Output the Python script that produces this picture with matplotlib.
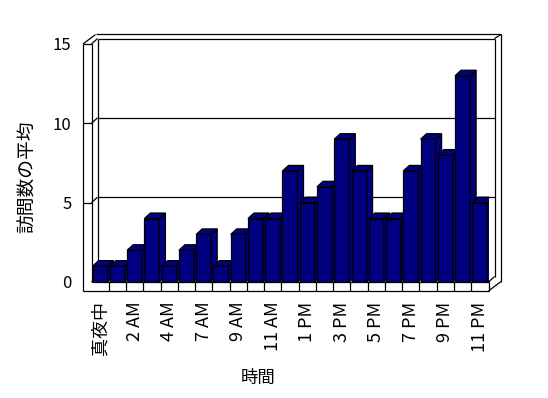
import matplotlib
matplotlib.use("Agg")
import matplotlib.pyplot as plt
from matplotlib.patches import Polygon
import numpy as np

plt.rcParams['font.family'] = ['Noto Sans CJK JP', 'DejaVu Sans']

# ---- data ----
categories = ['真夜中', '1 AM', '2 AM', '3 AM', '4 AM', '5 AM', '7 AM', '8 AM',
              '9 AM', '10 AM', '11 AM', '12 PM', '1 PM', '2 PM', '3 PM', '4 PM',
              '5 PM', '6 PM', '7 PM', '8 PM', '9 PM', '10 PM', '11 PM']
visits = [1, 1, 2, 4, 1, 2, 3, 1, 3, 4, 4, 7, 5, 6, 9, 7, 4, 4, 7, 9, 8, 13, 5]
y_ticks = [0, 5, 10, 15]
x_label = '時間'
y_label = '訪問数の平均'

W, H = 548, 398
fig = plt.figure(figsize=(W / 100, H / 100), dpi=100)
fig.patch.set_facecolor('white')

# front plane of the plot region (pixels)
left_px, right_px, top_px, bottom_px = 91.5, 488.5, 44, 282
ax = fig.add_axes([left_px / W, (H - bottom_px) / H,
                   (right_px - left_px) / W, (bottom_px - top_px) / H])
n = len(visits)
x = np.arange(n)
ax.set_xlim(-0.5, n - 0.5)
ax.set_ylim(0, 15)
ax.set_facecolor('none')
for s in ax.spines.values():
    s.set_visible(False)

sx = (right_px - left_px) / n          # px per x unit
sy = (bottom_px - top_px) / 15.0       # px per y unit
d1 = (6.0 / sx, 5.5 / sy)              # depth of plot area
d2 = (12.5 / sx, 9.5 / sy)             # depth incl. back wall thickness
wall = 8.5 / sx
floor = 9.0 / sy

x0, x1 = -0.5, n - 0.5
ymax = 15
navy = '#000080'
lw = 0.9
kw = dict(color='black', lw=lw, clip_on=False, solid_capstyle='butt')


def line(xs, ys, z=2):
    ax.plot(xs, ys, zorder=z, **kw)


# back plane
line([x0 + d1[0], x1 + d1[0]], [ymax + d1[1]] * 2)
line([x0 + d1[0]] * 2, [d1[1], ymax + d1[1]])
line([x1 + d1[0]] * 2, [d1[1], ymax + d1[1]])
for v in y_ticks[1:-1]:
    line([x0 + d1[0], x1 + d1[0]], [v + d1[1]] * 2)
# left wall inner diagonals
for v in y_ticks:
    line([x0, x0 + d1[0]], [v, v + d1[1]])
# left wall front face
line([x0 - wall, x0 - wall], [-floor, ymax])
line([x0, x0], [0, ymax])
for v in y_ticks[1:]:
    line([x0 - wall, x0], [v, v])
# outer frame
line([x0 - wall, x0 - wall + d2[0]], [ymax, ymax + d2[1]])
line([x0 - wall + d2[0], x1 + d2[0]], [ymax + d2[1]] * 2)
line([x1 + d1[0], x1 + d2[0]], [ymax + d1[1], ymax + d2[1]])
line([x1 + d2[0]] * 2, [ymax + d2[1], -floor + d2[1]])
line([x1, x1 + d2[0]], [-floor, -floor + d2[1]])
line([x1, x1 + d1[0]], [0, d1[1]])
# floor front face
line([x0, x1], [0, 0], z=5)
line([x0 - wall, x1], [-floor, -floor], z=5)
for k in range(1, n + 1):
    line([x0 + k, x0 + k], [-floor, 0], z=5)

# bars (front faces from the library, 3D faces computed from the same data)
w = 0.87
bars = ax.bar(x, visits, width=w, color=navy, edgecolor='black', linewidth=lw)
for i, (rect, v) in enumerate(zip(bars, visits)):
    z = 10 + 3 * i
    rect.set_zorder(z)
    xr = x[i] + w / 2
    xl = x[i] - w / 2
    side = Polygon([(xr, 0), (xr + d1[0], d1[1]), (xr + d1[0], v + d1[1]), (xr, v)],
                   closed=True, facecolor=navy, edgecolor='black', lw=lw, zorder=z + 1)
    top = Polygon([(xl, v), (xr, v), (xr + d1[0], v + d1[1]), (xl + d1[0], v + d1[1])],
                  closed=True, facecolor=navy, edgecolor='black', lw=lw, zorder=z + 2)
    ax.add_patch(side)
    ax.add_patch(top)

# ticks and labels
ax.tick_params(length=0)
ax.set_yticks(y_ticks)
ax.set_yticklabels([str(t) for t in y_ticks], fontsize=12)
ax.tick_params(axis='y', pad=14.5)
ax.set_xticks(x[::2])
ax.set_xticklabels(categories[::2], rotation=90, fontsize=13)
ax.tick_params(axis='x', pad=14)

ax.set_ylabel(y_label, fontsize=13.5)
ax.yaxis.set_label_coords((38 - left_px) / (right_px - left_px), (bottom_px - 177) / (bottom_px - top_px))
ax.set_xlabel(x_label, fontsize=12.5)
ax.xaxis.set_label_coords((258 - left_px) / (right_px - left_px), (bottom_px - 369) / (bottom_px - top_px))

fig.savefig('out.png', dpi=100, facecolor='white')
